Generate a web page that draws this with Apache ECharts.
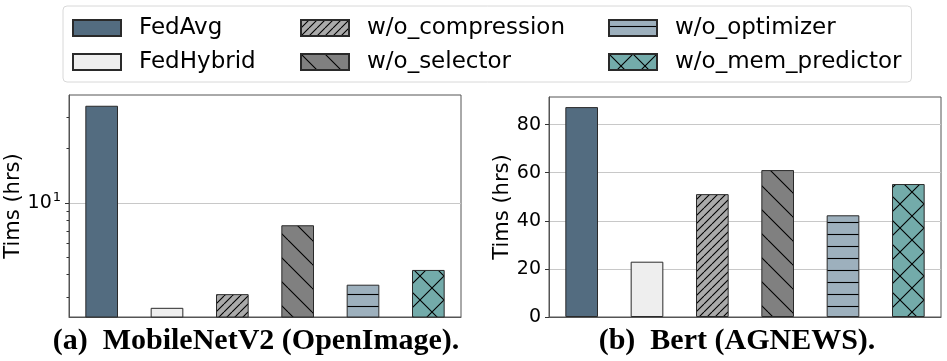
<!DOCTYPE html>
<html>
<head>
<meta charset="utf-8">
<script src="https://cdn.jsdelivr.net/npm/echarts@6/dist/echarts.min.js"></script>
<style>
  html, body { margin: 0; padding: 0; background: #fff; }
  #chart-container { width: 947px; height: 361px; }
</style>
</head>
<body>
<div id="chart-container"></div>
<script>
var categories = ['FedAvg', 'FedHybrid', 'w/o_compression', 'w/o_selector', 'w/o_optimizer', 'w/o_mem_predictor'];
// hours
var mobileNetHours = [34.6, 2.62, 3.12, 7.52, 3.52, 4.25];
var bertHours = [87.3, 23.0, 51.1, 61.1, 42.3, 55.3];
var logLabelTicks = [10];
var logMinorTicks = [3, 4, 5, 6, 7, 8, 9, 20, 30];
var linearTicks = [0, 20, 40, 60, 80];

var dom = document.getElementById('chart-container');
var myChart = echarts.init(dom, null, { renderer: 'canvas' });

// hatch tiles like matplotlib's hatch patterns
function hatch(bg, kind, size) {
  var c = document.createElement('canvas');
  c.width = size;
  c.height = size;
  var g = c.getContext('2d');
  g.fillStyle = bg;
  g.fillRect(0, 0, size, size);
  if (kind) {
    g.strokeStyle = '#000';
    g.lineWidth = 1.1;
    g.beginPath();
    [-size, 0, size].forEach(function (k) {
      if (kind === '/' || kind === 'x') {
        g.moveTo(k, size);
        g.lineTo(k + size, 0);
      }
      if (kind === '\\' || kind === 'x') {
        g.moveTo(k, 0);
        g.lineTo(k + size, size);
      }
    });
    if (kind === '-') {
      g.moveTo(0, size / 2 + 0.5);
      g.lineTo(size, size / 2 + 0.5);
    }
    g.stroke();
  }
  return { image: c, repeat: 'repeat' };
}

var fills = [
  '#536c80',
  '#eeeeee',
  hatch('#aaaaaa', '/', 8),
  hatch('#808080', '\\', 24),
  hatch('#9db0bd', '-', 12),
  hatch('#73abaa', 'x', 24)
];

var tickFont = { fontFamily: 'DejaVu Sans', fontSize: 19, color: '#000' };
var nameFont = { fontFamily: 'DejaVu Sans', fontSize: 21, color: '#000' };

var series = [];
[mobileNetHours, bertHours].forEach(function (vals, gi) {
  categories.forEach(function (name, i) {
    series.push({
      name: name,
      type: 'bar',
      xAxisIndex: gi,
      yAxisIndex: gi === 0 ? 0 : 2,
      barWidth: '50%',
      barGap: '-100%',
      clip: true,
      itemStyle: { color: fills[i], borderColor: '#2a2a2a', borderWidth: 1 },
      data: categories.map(function (c, j) { return j === i ? vals[i] : '-'; })
    });
  });
});

var xBase = {
  type: 'category',
  data: categories,
  boundaryGap: true,
  axisLabel: { show: false },
  axisTick: { show: false },
  axisLine: { show: true, lineStyle: { color: '#555' } },
  splitLine: { show: false }
};

var option = {
  animation: false,
  legend: {
    orient: 'vertical',
    left: 63,
    top: 6,
    height: 82,
    padding: [10, 10, 8, 9],
    itemGap: 10,
    itemWidth: 48,
    itemHeight: 16,
    icon: 'rect',
    borderColor: '#d8d8d8',
    borderWidth: 1,
    borderRadius: 4,
    textStyle: { fontFamily: 'DejaVu Sans', fontSize: 23, color: '#000', lineHeight: 24, padding: [0, 0, 0, 13] },
    data: categories.map(function (c, i) {
      var w = i < 2 ? 151 : i < 4 ? 231 : null;
      return w ? { name: c, textStyle: { width: w } } : { name: c };
    })
  },
  grid: [
    { left: 69, right: 486, top: 95, bottom: 44, show: true, borderColor: '#555', borderWidth: 1 },
    { left: 549, right: 6, top: 97, bottom: 44, show: true, borderColor: '#555', borderWidth: 1 }
  ],
  xAxis: [
    Object.assign({ gridIndex: 0 }, xBase),
    Object.assign({ gridIndex: 1 }, xBase)
  ],
  yAxis: [
    {
      type: 'log',
      gridIndex: 0,
      min: 2.33,
      max: 39.7,
      axisLine: { show: true, lineStyle: { color: '#555' } },
      axisTick: { show: true, length: 4, customValues: logLabelTicks, lineStyle: { color: '#333' } },
      axisLabel: {
        customValues: logLabelTicks,
        margin: 8,
        formatter: function (v) { return '{b|10}{s|1}'; },
        rich: {
          b: tickFont,
          s: { fontFamily: 'DejaVu Sans', fontSize: 13, color: '#000', verticalAlign: 'bottom', padding: [0, 0, 10, 1] }
        }
      },
      splitLine: { show: true, lineStyle: { color: '#c8c8c8' } },
      name: 'Tims (hrs)',
      nameLocation: 'middle',
      nameGap: 44,
      nameTextStyle: nameFont
    },
    {
      type: 'log',
      gridIndex: 0,
      position: 'left',
      min: 2.33,
      max: 39.7,
      axisLine: { show: false },
      axisTick: { show: true, length: 2.5, customValues: logMinorTicks, lineStyle: { color: '#333' } },
      axisLabel: { show: false },
      splitLine: { show: false }
    },
    {
      type: 'value',
      gridIndex: 1,
      min: 0,
      max: 91.5,
      interval: 20,
      axisLine: { show: true, lineStyle: { color: '#555' } },
      axisTick: { show: true, length: 4, customValues: linearTicks, lineStyle: { color: '#333' } },
      axisLabel: Object.assign({ customValues: linearTicks, margin: 8 }, tickFont),
      splitLine: { show: true, lineStyle: { color: '#c8c8c8' } },
      name: 'Tims (hrs)',
      nameLocation: 'middle',
      nameGap: 35,
      nameTextStyle: nameFont
    }
  ],
  graphic: [
    {
      type: 'text', x: 256, y: 341,
      style: { text: '(a)  MobileNetV2 (OpenImage).', align: 'center', verticalAlign: 'middle',
        font: 'bold 30px "Liberation Serif"', fill: '#000' }
    },
    {
      type: 'text', x: 737, y: 341,
      style: { text: '(b)  Bert (AGNEWS).', align: 'center', verticalAlign: 'middle',
        font: 'bold 30px "Liberation Serif"', fill: '#000' }
    }
  ],
  series: series
};

if (option && typeof option === 'object') {
  myChart.setOption(option);
}

window.addEventListener('resize', myChart.resize);
</script>
</body>
</html>
